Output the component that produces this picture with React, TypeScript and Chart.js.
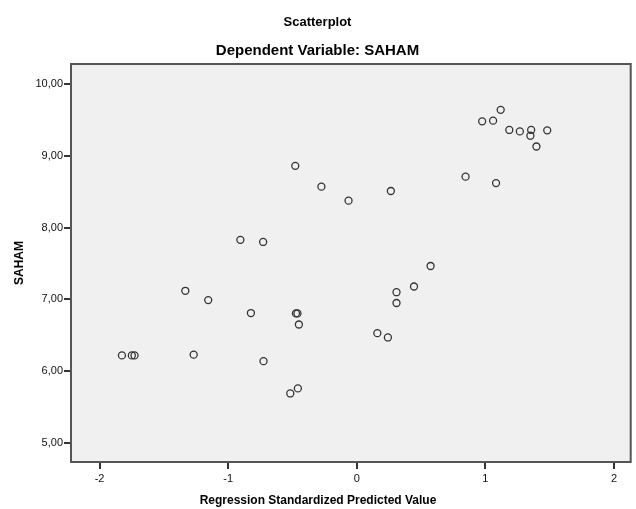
import React, { useEffect, useRef } from 'react';
import { Chart, registerables } from 'chart.js';

Chart.register(...registerables);

// Regression standardized predicted value (x) and SAHAM (y)
const predicted = [
  -1.826, -1.749, -1.728, -1.333, -1.155, -0.823, -1.268, -0.473, -0.461, -0.45,
  -0.725, -0.517, -0.458, -0.478, -0.275, -0.064, -0.905, -0.728, 1.119, 0.975,
  1.06, 1.186, 1.268, 1.356, 1.35, 1.481, 1.397, 0.846, 1.083, 0.265,
  0.574, 0.445, 0.309, 0.309, 0.16, 0.242,
];
const saham = [
  6.22, 6.22, 6.22, 7.12, 6.99, 6.81, 6.23, 6.805, 6.805, 6.65,
  6.14, 5.69, 5.76, 8.86, 8.57, 8.375, 7.83, 7.8, 9.64, 9.48,
  9.49, 9.36, 9.34, 9.36, 9.28, 9.355, 9.13, 8.71, 8.62, 8.51,
  7.465, 7.18, 7.1, 6.95, 6.53, 6.47,
];

const xTickValues = [-2, -1, 0, 1, 2];
const xTickLabels = ['-2', '-1', '0', '1', '2'];
const yTickValues = [5, 6, 7, 8, 9, 10];
const yTickLabels = ['5,00', '6,00', '7,00', '8,00', '9,00', '10,00'];

const chartTitle = 'Scatterplot';
const chartSubtitle = 'Dependent Variable: SAHAM';
const xAxisTitle = 'Regression Standardized Predicted Value';
const yAxisTitle = 'SAHAM';

const FONT = "'Liberation Sans', Arial, Helvetica, sans-serif";

const plotBox = {
  id: 'plotBox',
  beforeDatasetsDraw(chart: any) {
    const { ctx, chartArea } = chart;
    ctx.save();
    ctx.fillStyle = '#f0f0f0';
    ctx.fillRect(chartArea.left, chartArea.top, chartArea.right - chartArea.left, chartArea.bottom - chartArea.top);
    ctx.restore();
  },
  afterDraw(chart: any) {
    const { ctx, chartArea, width } = chart;
    ctx.save();
    ctx.strokeStyle = '#555555';
    ctx.lineWidth = 2;
    ctx.strokeRect(chartArea.left, chartArea.top, chartArea.right - chartArea.left, chartArea.bottom - chartArea.top);
    // x-axis title, centred on the whole chart like the original
    ctx.fillStyle = '#000';
    ctx.font = `bold 12px ${FONT}`;
    ctx.textAlign = 'center';
    ctx.textBaseline = 'middle';
    ctx.fillText(xAxisTitle, width / 2, 501);
    ctx.restore();
  },
};

export default function App() {
  const canvasRef = useRef<HTMLCanvasElement | null>(null);

  useEffect(() => {
    if (!canvasRef.current) return;
    const points = predicted.map((x, i) => ({ x, y: saham[i] }));
    const chart = new Chart(canvasRef.current, {
      type: 'scatter',
      data: {
        datasets: [
          {
            data: points,
            pointStyle: 'circle',
            pointRadius: 3.5,
            pointBorderWidth: 1.3,
            pointBorderColor: '#333333',
            pointBackgroundColor: 'rgba(0,0,0,0)',
          },
        ],
      },
      options: {
        animation: false,
        responsive: false,
        events: [],
        layout: { padding: { top: 0, right: 1, left: 0, bottom: 0 } },
        plugins: {
          legend: { display: false },
          tooltip: { enabled: false },
          title: {
            display: true,
            text: chartTitle,
            color: '#000',
            font: { family: FONT, size: 13, weight: 'bold', lineHeight: '15.6px' },
            padding: { top: 14.2, bottom: 6 },
          },
          subtitle: {
            display: true,
            text: chartSubtitle,
            color: '#000',
            font: { family: FONT, size: 15, weight: 'bold', lineHeight: '18px' },
            padding: { top: 6.2, bottom: 4 },
          },
        },
        scales: {
          x: {
            type: 'linear',
            min: -2.222,
            max: 2.13,
            afterFit(scale: any) {
              scale.height = 47;
            },
            afterBuildTicks(scale: any) {
              scale.ticks = xTickValues.map((v) => ({ value: v }));
            },
            ticks: {
              color: '#111',
              font: { family: FONT, size: 11 },
              padding: 3,
              maxRotation: 0,
              autoSkip: false,
              callback: (v: any) => {
                const i = xTickValues.indexOf(Number(v));
                return i >= 0 ? xTickLabels[i] : '';
              },
            },
            grid: {
              display: true,
              drawOnChartArea: false,
              drawTicks: true,
              tickLength: 7,
              tickColor: '#333',
              lineWidth: 2,
            },
            border: { display: false },
            title: { display: false },
          },
          y: {
            type: 'linear',
            min: 4.735,
            max: 10.279,
            afterFit(scale: any) {
              scale.width = 71;
            },
            afterBuildTicks(scale: any) {
              scale.ticks = yTickValues.map((v) => ({ value: v }));
            },
            ticks: {
              color: '#111',
              font: { family: FONT, size: 11 },
              padding: 1,
              autoSkip: false,
              callback: (v: any) => {
                const i = yTickValues.indexOf(Number(v));
                return i >= 0 ? yTickLabels[i] : '';
              },
            },
            grid: {
              display: true,
              drawOnChartArea: false,
              drawTicks: true,
              tickLength: 7,
              tickColor: '#333',
              lineWidth: 2,
            },
            border: { display: false },
            title: {
              display: true,
              text: yAxisTitle,
              color: '#000',
              font: { family: FONT, size: 12, weight: 'bold' },
              padding: { top: 12.5, bottom: 0 },
            },
          },
        },
      },
      plugins: [plotBox],
    });
    return () => chart.destroy();
  }, []);

  return (
    <div style={{ position: 'fixed', left: 0, top: 0, width: 636, height: 509, background: '#fff' }}>
      <canvas ref={canvasRef} width={636} height={509} style={{ display: 'block', width: 636, height: 509 }} />
    </div>
  );
}
